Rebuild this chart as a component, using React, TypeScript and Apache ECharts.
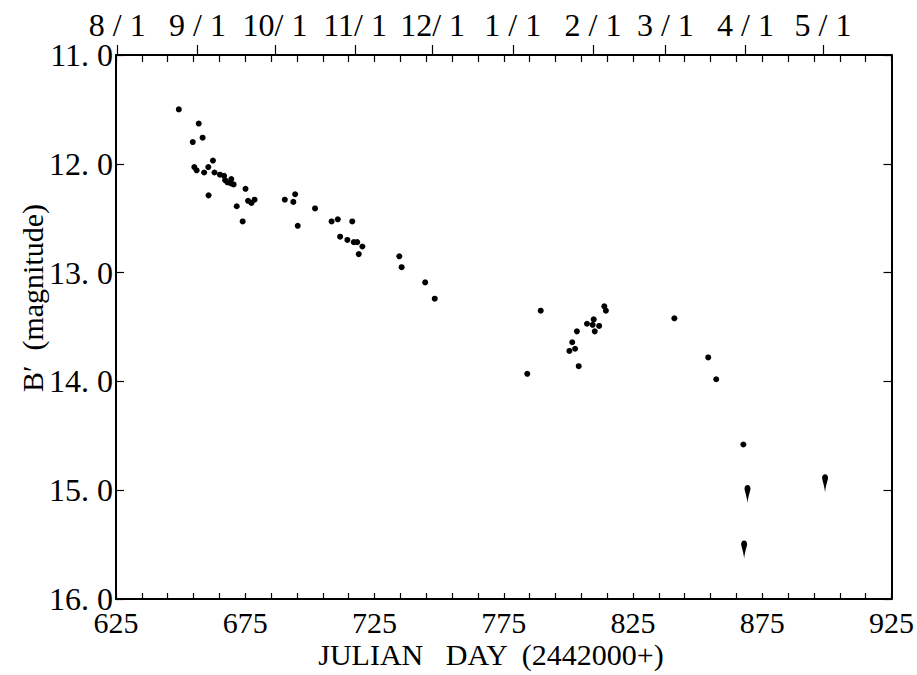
import React, { useEffect, useRef } from "react";
import * as echarts from "echarts";

const SERIF = "Liberation Serif";

// Julian day (2442000+) of each measured point and its B' magnitude
const obsDays = [
  649.3, 657.0, 654.7, 658.5, 655.3, 656.2, 660.7, 662.5, 659.1, 663.1,
  660.8, 665.2, 666.8, 667.2, 668.1, 669.6, 669.5, 670.5, 675.1, 671.7,
  674.0, 676.1, 677.4, 678.6, 690.3, 693.6, 694.3, 695.3, 702.0, 708.4,
  710.8, 716.4, 711.7, 714.5, 717.0, 718.3, 720.3, 718.9, 734.6, 735.5,
  744.6, 748.3, 784.1, 789.3, 800.4, 802.6, 801.5, 803.3, 804.0, 807.2,
  809.4, 809.8, 810.2, 811.9, 813.9, 814.5, 841.0, 854.1, 857.2, 867.7,
];
const obsMags = [
  11.50, 11.63, 11.80, 11.76, 12.03, 12.06, 12.03, 11.97, 12.08, 12.08,
  12.29, 12.10, 12.11, 12.15, 12.17, 12.14, 12.18, 12.19, 12.23, 12.39,
  12.53, 12.34, 12.36, 12.33, 12.33, 12.35, 12.28, 12.57, 12.41, 12.53,
  12.51, 12.53, 12.67, 12.70, 12.72, 12.72, 12.76, 12.83, 12.85, 12.95,
  13.09, 13.24, 13.93, 13.35, 13.72, 13.70, 13.64, 13.54, 13.86, 13.47,
  13.48, 13.43, 13.54, 13.49, 13.31, 13.35, 13.42, 13.78, 13.98, 14.58,
];

// Upper limits (fainter than), drawn with a downward tail
const limitDays = [869.3, 868.0, 899.3];
const limitMags = [14.98, 15.49, 14.88];

// Axis ticks and labels
const dayTicks = [
  625, 635, 645, 655, 665, 675, 685, 695, 705, 715, 725, 735, 745, 755, 765,
  775, 785, 795, 805, 815, 825, 835, 845, 855, 865, 875, 885, 895, 905, 915, 925,
];
const dayLabels = [625, 675, 725, 775, 825, 875, 925];
const monthDays = [625.5, 656.5, 686.5, 717.5, 747.5, 778.5, 809.5, 837.5, 868.5, 898.5];
const monthLabels = ["8 / 1", "9 / 1", "10/ 1", "11/ 1", "12/ 1", "1 / 1", "2 / 1", "3 / 1", "4 / 1", "5 / 1"];
const magTicks = [11, 12, 13, 14, 15, 16];

// Dot with a tail pointing down (towards fainter magnitudes)
const LIMIT_SYMBOL =
  "path://M1,0 C1.6,0 2,0.45 2,1 C2,1.6 1.4,2.5 1,5 C0.6,2.5 0,1.6 0,1 C0,0.45 0.4,0 1,0 Z";

export default function App() {
  const ref = useRef<HTMLDivElement>(null);

  useEffect(() => {
    if (!ref.current) return;
    const chart = echarts.init(ref.current, null, { renderer: "svg" });

    const lineStyle = { color: "#000", width: 2 };
    const tickStyle = { color: "#000", width: 1.2 };

    chart.setOption({
      animation: false,
      backgroundColor: "#fff",
      textStyle: { fontFamily: SERIF },
      grid: { left: 116, right: 19, top: 55, bottom: 76, containLabel: false },
      xAxis: [
        {
          type: "value",
          position: "bottom",
          min: 625,
          max: 925,
          axisLine: { show: true, lineStyle },
          axisTick: { show: true, inside: true, length: 6, customValues: dayTicks, lineStyle: tickStyle },
          axisLabel: {
            show: true,
            customValues: dayLabels,
            margin: 13,
            color: "#000",
            fontFamily: SERIF,
            fontSize: 30,
            lineHeight: 20,
          },
          splitLine: { show: false },
        },
        {
          type: "value",
          position: "top",
          min: 625,
          max: 925,
          axisLine: { show: true, lineStyle },
          axisTick: { show: true, inside: true, length: 7, customValues: dayTicks, lineStyle: tickStyle },
          axisLabel: { show: false },
          splitLine: { show: false },
        },
        {
          type: "value",
          position: "top",
          min: 625,
          max: 925,
          axisLine: { show: false },
          axisTick: { show: true, inside: false, length: 10, customValues: monthDays, lineStyle: tickStyle },
          axisLabel: {
            show: true,
            customValues: monthDays,
            margin: 17,
            color: "#000",
            fontFamily: SERIF,
            fontSize: 32,
            lineHeight: 26,
            formatter: (v: number) => {
              const i = monthDays.findIndex((d) => Math.abs(d - v) < 0.01);
              return i >= 0 ? monthLabels[i] : "";
            },
          },
          splitLine: { show: false },
        },
      ],
      yAxis: [
        {
          type: "value",
          position: "left",
          inverse: true,
          min: 11,
          max: 16,
          axisLine: { show: true, lineStyle },
          axisTick: { show: true, inside: true, length: 8, customValues: magTicks, lineStyle: tickStyle },
          axisLabel: {
            show: true,
            customValues: magTicks,
            margin: 3,
            color: "#000",
            fontFamily: SERIF,
            fontSize: 32,
            lineHeight: 16,
            padding: [0, 0, 8, 0],
            formatter: (v: number) => v.toFixed(1).replace(".", ". "),
          },
          splitLine: { show: false },
        },
        {
          type: "value",
          position: "right",
          inverse: true,
          min: 11,
          max: 16,
          axisLine: { show: true, lineStyle },
          axisTick: { show: true, inside: true, length: 8, customValues: magTicks, lineStyle: tickStyle },
          axisLabel: { show: false },
          splitLine: { show: false },
        },
      ],
      graphic: [
        {
          type: "text",
          x: 491,
          y: 654,
          style: {
            text: "JULIAN   DAY  (2442000+)",
            fill: "#000",
            fontFamily: SERIF,
            fontSize: 30,
            lineHeight: 24,
            textAlign: "center",
            textVerticalAlign: "middle",
          },
        },
        {
          type: "text",
          x: 32,
          y: 298,
          rotation: Math.PI / 2,
          style: {
            text: "B′  (magnitude)",
            fill: "#000",
            fontFamily: SERIF,
            fontSize: 30,
            textAlign: "center",
            textVerticalAlign: "middle",
          },
        },
      ],
      series: [
        {
          type: "scatter",
          xAxisIndex: 0,
          yAxisIndex: 0,
          symbol: "circle",
          symbolSize: 6,
          itemStyle: { color: "#000", opacity: 1 },
          data: obsDays.map((d, i) => [d, obsMags[i]]),
        },
        {
          type: "scatter",
          xAxisIndex: 0,
          yAxisIndex: 0,
          symbol: LIMIT_SYMBOL,
          symbolSize: [6, 18],
          symbolKeepAspect: false,
          symbolOffset: [0, 6],
          itemStyle: { color: "#000", opacity: 1 },
          data: limitDays.map((d, i) => [d, limitMags[i]]),
        },
      ],
    });

    return () => chart.dispose();
  }, []);

  return (
    <div
      ref={ref}
      style={{ position: "fixed", left: 0, top: 0, width: 917, height: 675, background: "#fff" }}
    />
  );
}
